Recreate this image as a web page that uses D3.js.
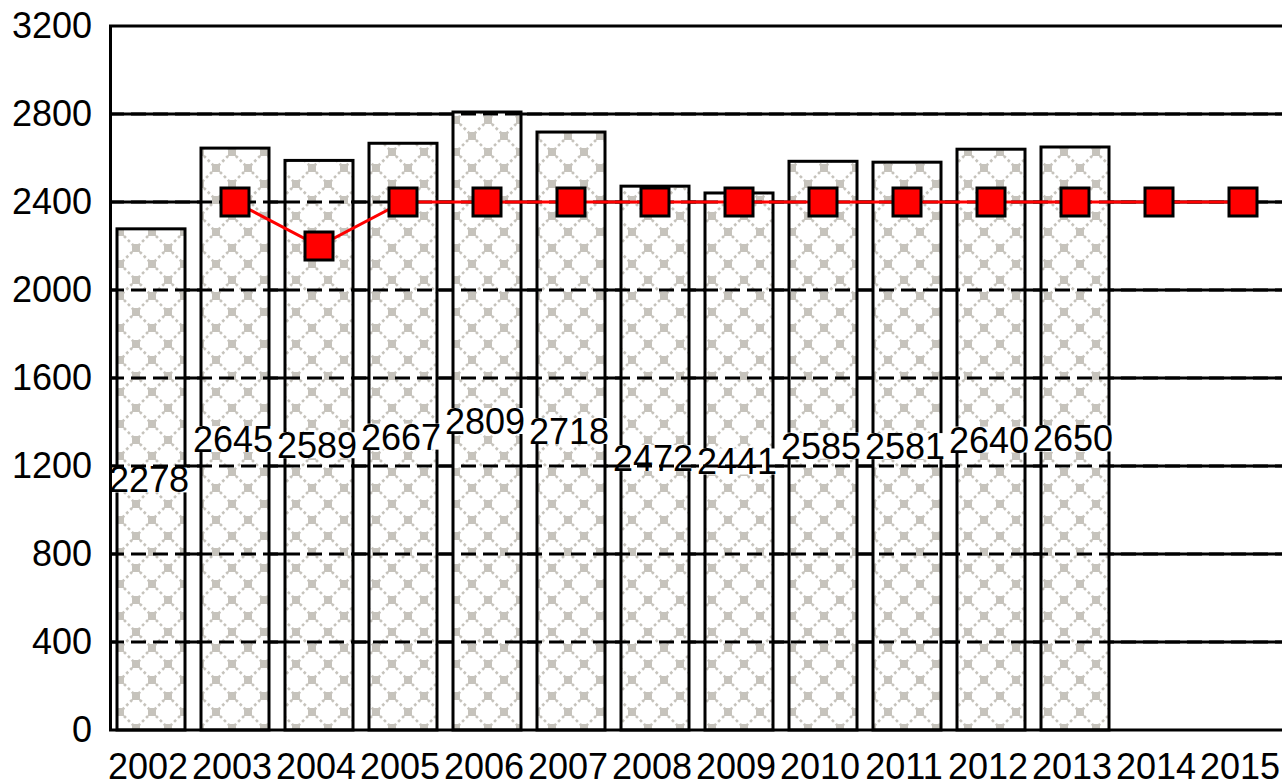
<!DOCTYPE html>
<html lang="en">
<head>
    <meta charset="UTF-8">
    <title>Bars and line 2002-2015</title>
    <script src="https://d3js.org/d3.v7.min.js"></script>
    <style>
        body {
            margin: 0;
            background-color: #ffffff;
        }
        svg text {
            font-family: "Liberation Sans", Arial, sans-serif;
            font-size: 36px;
            fill: #000;
        }
    </style>
</head>
<body>
    <div id="chart"></div>

    <script>
        // data
        const years = ["2002", "2003", "2004", "2005", "2006", "2007", "2008", "2009",
                       "2010", "2011", "2012", "2013", "2014", "2015"];
        const barValues = [2278, 2645, 2589, 2667, 2809, 2718, 2472, 2441, 2585, 2581, 2640, 2650];
        const lineYears = ["2003", "2004", "2005", "2006", "2007", "2008", "2009",
                           "2010", "2011", "2012", "2013", "2014", "2015"];
        const lineValues = [2400, 2200, 2400, 2400, 2400, 2400, 2400, 2400, 2400, 2400, 2400, 2400, 2400];
        const yTicks = [0, 400, 800, 1200, 1600, 2000, 2400, 2800, 3200];

        const width = 1282, height = 783;
        const plotLeft = 109, plotTop = 26, plotBottom = 730, step = 84;
        const hatchGray = "#c6c3bc";

        const svg = d3.select("#chart").append("svg")
            .attr("width", width).attr("height", height);

        // hatch fill for the bars: dotted diamond lattice with blobs at the crossings
        const pattern = svg.append("defs").append("pattern")
            .attr("id", "hatch")
            .attr("patternUnits", "userSpaceOnUse")
            .attr("x", 120).attr("y", 8)
            .attr("width", 32).attr("height", 32);
        pattern.append("rect").attr("width", 32).attr("height", 32).attr("fill", "#fff");
        pattern.append("path")
            .attr("d", "M0,0L32,32M32,0L0,32")
            .attr("stroke", hatchGray)
            .attr("stroke-width", 2.6)
            .attr("stroke-dasharray", "2.8,2.8")
            .attr("fill", "none");
        [[16, 16], [0, 0], [32, 0], [0, 32], [32, 32]].forEach(p => {
            pattern.append("rect")
                .attr("x", p[0] - 4).attr("y", p[1] - 4)
                .attr("width", 8).attr("height", 8)
                .attr("fill", hatchGray);
        });

        const x = d3.scaleBand()
            .domain(years)
            .range([plotLeft, plotLeft + step * years.length])
            .paddingInner(16 / 84)
            .paddingOuter(8 / 84);

        const y = d3.scaleLinear()
            .domain([0, 3200])
            .range([plotBottom, plotTop]);

        // gridlines (solid, behind the bars)
        svg.append("g").selectAll("line")
            .data(yTicks.filter(d => d > 0))
            .enter().append("line")
            .attr("x1", plotLeft).attr("x2", width)
            .attr("y1", d => y(d)).attr("y2", d => y(d))
            .attr("stroke", "#000").attr("stroke-width", 3);

        // bars
        svg.append("g").selectAll("rect")
            .data(barValues)
            .enter().append("rect")
            .attr("x", (d, i) => x(years[i]))
            .attr("y", d => y(d))
            .attr("width", x.bandwidth())
            .attr("height", d => plotBottom - y(d))
            .attr("fill", "url(#hatch)")
            .attr("stroke", "#000")
            .attr("stroke-width", 3);

        // value labels at half bar height, on a white box
        const labels = svg.append("g").selectAll("g")
            .data(barValues)
            .enter().append("g")
            .attr("transform", (d, i) => `translate(${x(years[i]) + x.bandwidth() / 2 - 2},${y(d / 2)})`);
        labels.append("rect")
            .attr("x", -38).attr("y", -13)
            .attr("width", 76).attr("height", 26)
            .attr("fill", "#fff");
        labels.append("text")
            .attr("text-anchor", "middle")
            .attr("dy", "0.36em")
            .text(d => d);

        // gridlines again, dashed, so they show through the bars
        svg.append("g").selectAll("line")
            .data(yTicks.filter(d => d > 0 && d < 3200))
            .enter().append("line")
            .attr("x1", plotLeft).attr("x2", width)
            .attr("y1", d => y(d)).attr("y2", d => y(d))
            .attr("stroke", "#000").attr("stroke-width", 3)
            .attr("stroke-dasharray", "15,7");

        // axes
        const yAxis = svg.append("g")
            .attr("transform", `translate(${plotLeft + 1},0)`)
            .call(d3.axisLeft(y).tickValues(yTicks).tickFormat(d3.format("d")).tickSize(0).tickPadding(18));
        yAxis.select(".domain").attr("stroke", "#000").attr("stroke-width", 3);
        yAxis.selectAll("text").style("font-size", "36px").style("font-family", "Liberation Sans, Arial, sans-serif").attr("fill", "#000");

        const xAxis = svg.append("g")
            .attr("transform", `translate(0,${plotBottom})`)
            .call(d3.axisBottom(x).tickSize(0).tickPadding(23));
        xAxis.select(".domain").remove();
        xAxis.selectAll("text").style("font-size", "36px").style("font-family", "Liberation Sans, Arial, sans-serif").attr("fill", "#000")
            .attr("dx", -3);
        svg.append("line")
            .attr("x1", plotLeft).attr("x2", width)
            .attr("y1", plotBottom).attr("y2", plotBottom)
            .attr("stroke", "#000").attr("stroke-width", 3);

        // red line with square markers
        const line = d3.line()
            .x((d, i) => x(lineYears[i]) + x.bandwidth() / 2)
            .y(d => y(d));

        svg.append("path")
            .datum(lineValues)
            .attr("fill", "none")
            .attr("stroke", "#ff0000")
            .attr("stroke-width", 3)
            .attr("d", line);

        svg.append("g").selectAll("rect")
            .data(lineValues)
            .enter().append("rect")
            .attr("x", (d, i) => x(lineYears[i]) + x.bandwidth() / 2 - 14)
            .attr("y", d => y(d) - 14)
            .attr("width", 28).attr("height", 28)
            .attr("fill", "#ff0000")
            .attr("stroke", "#000")
            .attr("stroke-width", 3);
    </script>
</body>
</html>
